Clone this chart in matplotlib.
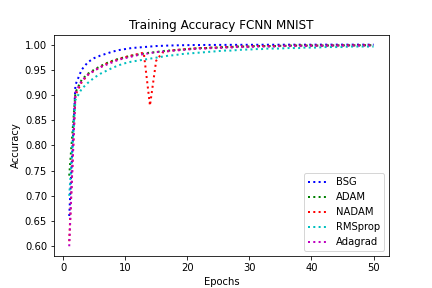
import numpy as np
import matplotlib
matplotlib.use("Agg")
import matplotlib.pyplot as plt

epochs = np.arange(1, 51)

bsg = [0.660, 0.920, 0.950, 0.965, 0.973, 0.978, 0.982, 0.986, 0.989, 0.991,
       0.993, 0.994, 0.995, 0.996, 0.997, 0.9975, 0.998, 0.9983, 0.9986, 0.9988,
       0.999, 0.999, 0.9992, 0.9992, 0.9993, 0.9993, 0.9994, 0.9994, 0.9995, 0.9995,
       0.9995, 0.9996, 0.9996, 0.9996, 0.9996, 0.9997, 0.9997, 0.9997, 0.9997, 0.9997,
       0.9998, 0.9998, 0.9998, 0.9998, 0.9998, 0.9998, 0.9998, 0.9998, 0.9998, 0.9998]

adam = [0.740, 0.905, 0.930, 0.942, 0.950, 0.957, 0.963, 0.968, 0.972, 0.975,
        0.978, 0.980, 0.982, 0.984, 0.985, 0.987, 0.988, 0.989, 0.990, 0.991,
        0.992, 0.993, 0.993, 0.994, 0.994, 0.995, 0.995, 0.996, 0.996, 0.996,
        0.997, 0.997, 0.997, 0.997, 0.9975, 0.9975, 0.998, 0.998, 0.998, 0.998,
        0.998, 0.998, 0.9983, 0.9983, 0.9985, 0.9985, 0.9985, 0.9987, 0.9987, 0.9988]

nadam = [0.610, 0.900, 0.925, 0.940, 0.948, 0.955, 0.962, 0.967, 0.971, 0.975,
         0.978, 0.981, 0.984, 0.879, 0.968, 0.984, 0.987, 0.989, 0.990, 0.991,
         0.992, 0.993, 0.993, 0.994, 0.994, 0.995, 0.995, 0.996, 0.996, 0.996,
         0.997, 0.997, 0.997, 0.997, 0.9975, 0.9975, 0.998, 0.998, 0.998, 0.998,
         0.998, 0.998, 0.998, 0.9983, 0.9983, 0.9985, 0.9985, 0.9985, 0.9987, 0.9987]

rmsprop = [0.700, 0.890, 0.912, 0.924, 0.934, 0.942, 0.948, 0.954, 0.959, 0.963,
           0.966, 0.968, 0.970, 0.972, 0.974, 0.976, 0.978, 0.979, 0.981, 0.982,
           0.983, 0.984, 0.985, 0.986, 0.987, 0.988, 0.988, 0.989, 0.990, 0.990,
           0.991, 0.991, 0.992, 0.992, 0.992, 0.993, 0.993, 0.993, 0.994, 0.994,
           0.994, 0.995, 0.995, 0.995, 0.995, 0.996, 0.996, 0.996, 0.996, 0.996]

adagrad = [0.600, 0.905, 0.928, 0.940, 0.948, 0.955, 0.960, 0.965, 0.970, 0.973,
           0.976, 0.979, 0.981, 0.983, 0.985, 0.986, 0.987, 0.988, 0.989, 0.990,
           0.991, 0.992, 0.992, 0.993, 0.993, 0.994, 0.994, 0.995, 0.995, 0.995,
           0.996, 0.996, 0.996, 0.996, 0.997, 0.997, 0.997, 0.997, 0.997, 0.9975,
           0.9975, 0.9975, 0.998, 0.998, 0.998, 0.998, 0.998, 0.998, 0.998, 0.998]

series = [("BSG", bsg, "b"), ("ADAM", adam, "g"), ("NADAM", nadam, "r"),
          ("RMSprop", rmsprop, "c"), ("Adagrad", adagrad, "m")]

fig, ax = plt.subplots(figsize=(6, 4), dpi=72)
for name, vals, col in series:
    ax.plot(epochs, vals, ":", color=col, linewidth=2, label=name)

ax.set_title("Training Accuracy FCNN MNIST")
ax.set_xlabel("Epochs")
ax.set_ylabel("Accuracy")
ax.legend(loc="lower right")
fig.savefig("out.png")
